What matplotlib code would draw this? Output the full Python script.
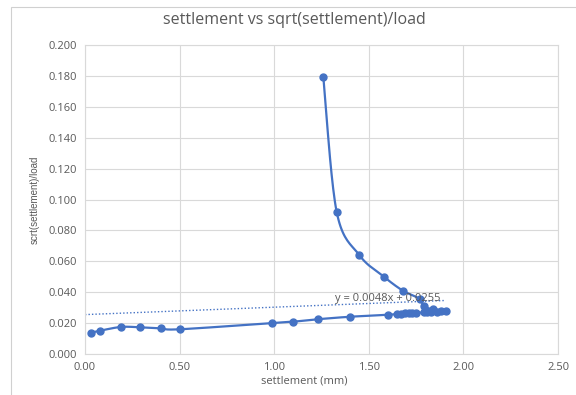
import numpy as np
import matplotlib
matplotlib.use("Agg")
import matplotlib.pyplot as plt
from matplotlib.patches import Rectangle

plt.rcParams['font.family'] = ['Open Sans', 'DejaVu Sans']

# settlement (mm) and sqrt(settlement)/load, in the order the readings were taken
settlement = [0.03, 0.08, 0.19, 0.29, 0.40, 0.50, 0.99, 1.10, 1.23, 1.40,
              1.60, 1.65, 1.67, 1.69, 1.71, 1.73, 1.75, 1.79, 1.81, 1.83,
              1.86, 1.88, 1.91,
              1.84, 1.79, 1.77, 1.68, 1.58, 1.45, 1.33, 1.26]
ratio = [0.0138, 0.0151, 0.0175, 0.0173, 0.0166, 0.0160, 0.0200, 0.0209, 0.0225, 0.0241,
         0.0254, 0.0259, 0.0261, 0.0263, 0.0264, 0.0265, 0.0266, 0.0270, 0.0271, 0.0272,
         0.0274, 0.0276, 0.0278,
         0.0289, 0.0310, 0.0356, 0.0410, 0.0500, 0.0640, 0.0921, 0.1790]

trend_slope = 0.0048
trend_intercept = 0.0255
trend_label = "y = 0.0048x + 0.0255"

x_ticks = [0.0, 0.5, 1.0, 1.5, 2.0, 2.5]
y_ticks = [0.0, 0.02, 0.04, 0.06, 0.08, 0.10, 0.12, 0.14, 0.16, 0.18, 0.20]

BLUE = "#4472C4"
GRID = "#D9D9D9"
TEXT = "#595959"


def smooth_path(xs, ys, n=20):
    """Catmull-Rom style smoothed line through the points."""
    xs = np.asarray(xs, float)
    ys = np.asarray(ys, float)
    px = np.concatenate([[xs[0]], xs, [xs[-1]]])
    py = np.concatenate([[ys[0]], ys, [ys[-1]]])
    out_x, out_y = [], []
    t = np.linspace(0, 1, n, endpoint=False)
    for i in range(1, len(px) - 2):
        p0, p1, p2, p3 = (np.array([px[j], py[j]]) for j in (i - 1, i, i + 1, i + 2))
        c1 = p1 + (p2 - p0) / 6.0
        c2 = p2 - (p3 - p1) / 6.0
        b = ((1 - t) ** 3)[:, None] * p1 + (3 * (1 - t) ** 2 * t)[:, None] * c1 \
            + (3 * (1 - t) * t ** 2)[:, None] * c2 + (t ** 3)[:, None] * p2
        out_x.extend(b[:, 0])
        out_y.extend(b[:, 1])
    out_x.append(xs[-1])
    out_y.append(ys[-1])
    return np.array(out_x), np.array(out_y)


fig = plt.figure(figsize=(5.76, 3.95), dpi=100)
fig.patch.set_facecolor("white")

# chart-area border
fig.patches.append(Rectangle((11 / 576, -0.05), 1.2, 1 - 7 / 395 + 0.05,
                             transform=fig.transFigure, fill=False,
                             edgecolor="#D0D0D0", linewidth=0.8))

ax = fig.add_axes([85 / 576, 1 - 354 / 395, (558 - 85) / 576, (354 - 45) / 395])
ax.set_xlim(0, 2.5)
ax.set_ylim(0, 0.2)
ax.set_xticks(x_ticks)
ax.set_yticks(y_ticks)
ax.set_xticklabels([f"{v:.2f}" for v in x_ticks])
ax.set_yticklabels([f"{v:.3f}" for v in y_ticks])
ax.grid(True, color=GRID, linewidth=0.8)
ax.set_axisbelow(True)
for s in ax.spines.values():
    s.set_color(GRID)
    s.set_linewidth(0.8)
ax.tick_params(length=0, labelsize=8, labelcolor=TEXT, pad=6)

sx, sy = smooth_path(settlement, ratio)
ax.plot(sx, sy, color=BLUE, linewidth=1.6, zorder=3)
ax.plot(settlement, ratio, linestyle="none", marker="o", markersize=5,
        color=BLUE, zorder=4)

tx = np.array([0.0, 1.90])
ax.plot(tx, trend_slope * tx + trend_intercept, color=BLUE, linestyle=(0, (1, 1.5)),
        linewidth=1.0, zorder=2)
ax.text(1.32, 0.0356, trend_label, fontsize=8, color=TEXT, ha="left", va="center", zorder=5)

fig.text(294 / 576, 1 - 20 / 395, "settlement vs sqrt(settlement)/load",
         ha="center", va="center", fontsize=11.5, color=TEXT)
fig.text(304 / 576, 1 - 381 / 395, "settlement (mm)",
         ha="center", va="center", fontsize=8, color=TEXT)
fig.text(35 / 576, 1 - 200 / 395, "scrt(settlement)/load", rotation=90,
         ha="center", va="center", fontsize=7, color=TEXT,
         family=["Liberation Sans Narrow", "Liberation Sans", "DejaVu Sans"])

fig.savefig("out.png", dpi=100, facecolor="white")
